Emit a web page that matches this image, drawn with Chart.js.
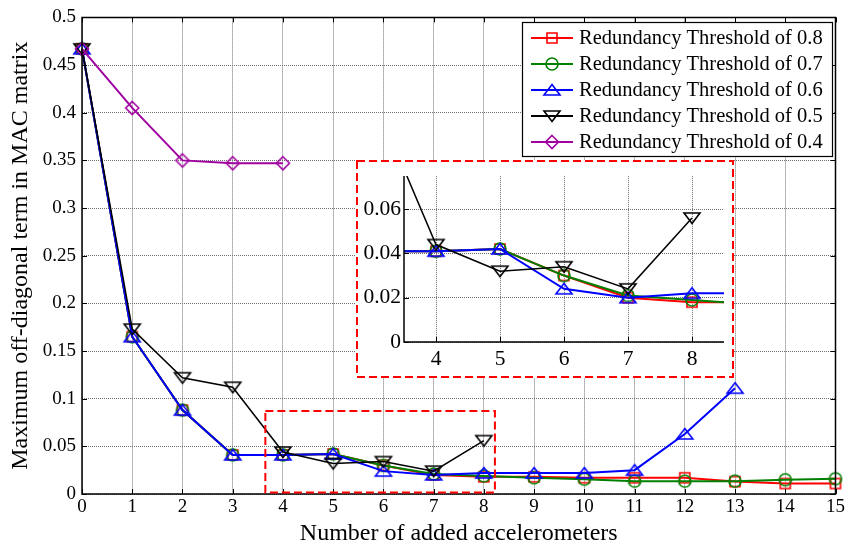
<!DOCTYPE html>
<html>
<head>
<meta charset="utf-8">
<script src="https://cdn.jsdelivr.net/npm/chart.js@4.4.0/dist/chart.umd.min.js"></script>
<style>
  html, body { margin: 0; padding: 0; background: #fff; }
  #wrap { position: relative; width: 847px; height: 551px; }
  #main { position: absolute; left: 0; top: 0; }
  #inset { position: absolute; left: 356px; top: 160px; }
</style>
</head>
<body>
<div id="wrap">
  <canvas id="main" width="847" height="551"></canvas>
  <canvas id="inset" width="378" height="218"></canvas>
</div>
<script>
// number of added accelerometers
const counts = [0, 1, 2, 3, 4, 5, 6, 7, 8, 9, 10, 11, 12, 13, 14, 15];

// max off-diagonal MAC term for each redundancy threshold
const thr08 = [0.467, 0.165, 0.088, 0.041, 0.041, 0.042, 0.030, 0.020, 0.018, 0.018, 0.017, 0.017, 0.017, 0.013, 0.011, 0.011];
const thr07 = [0.467, 0.165, 0.088, 0.041, 0.041, 0.042, 0.030, 0.021, 0.019, 0.017, 0.0155, 0.0135, 0.0135, 0.0135, 0.015, 0.016];
const thr06 = [0.467, 0.165, 0.088, 0.041, 0.041, 0.042, 0.024, 0.020, 0.022, 0.022, 0.022, 0.025, 0.063, 0.111];
const thr05 = [0.467, 0.173, 0.122, 0.112, 0.044, 0.032, 0.034, 0.024, 0.056];
const thr04 = [0.467, 0.405, 0.350, 0.347, 0.347];

const seriesNames = [
  'Redundancy Threshold of 0.8',
  'Redundancy Threshold of 0.7',
  'Redundancy Threshold of 0.6',
  'Redundancy Threshold of 0.5',
  'Redundancy Threshold of 0.4'
];
const seriesColors = ['#ff0000', '#008000', '#0000ff', '#000000', '#a000a0'];
const seriesShapes = ['square', 'circle', 'up', 'down', 'diamond'];
const seriesWidths = [2, 2, 2, 1.5, 2];

// tick values
const mainXTicks = [0, 1, 2, 3, 4, 5, 6, 7, 8, 9, 10, 11, 12, 13, 14, 15];
const mainYTicks = [0, 0.05, 0.1, 0.15, 0.2, 0.25, 0.3, 0.35, 0.4, 0.45, 0.5];
const insetXTicks = [4, 5, 6, 7, 8];
const insetYTicks = [0, 0.02, 0.04, 0.06];

// zoomed region marked on the main plot: [xmin, xmax, ymin, ymax]
const zoomBox = [3.65, 8.22, 0, 0.087];

const FONT = "'Liberation Serif', 'Times New Roman', serif";
const GRID = '#707070';
Chart.defaults.font.family = FONT;
Chart.defaults.color = '#000';

function makeMarker(shape, color) {
  const c = document.createElement('canvas');
  c.width = 22; c.height = 22;
  const g = c.getContext('2d');
  const m = 11;
  g.strokeStyle = color;
  g.lineWidth = 1.6;
  g.beginPath();
  if (shape === 'square') g.rect(m - 5, m - 5, 10, 10);
  else if (shape === 'circle') g.arc(m, m, 6, 0, Math.PI * 2);
  else if (shape === 'up') { g.moveTo(m, m - 5.5); g.lineTo(m + 8, m + 5); g.lineTo(m - 8, m + 5); g.closePath(); }
  else if (shape === 'down') { g.moveTo(m, m + 5.5); g.lineTo(m + 8, m - 5); g.lineTo(m - 8, m - 5); g.closePath(); }
  else { g.moveTo(m, m - 6.5); g.lineTo(m + 6.5, m); g.lineTo(m, m + 6.5); g.lineTo(m - 6.5, m); g.closePath(); }
  g.stroke();
  return c;
}
const markers = seriesShapes.map((s, i) => makeMarker(s, seriesColors[i]));

function toPoints(arr) {
  return arr.map((v, i) => ({ x: counts[i], y: v }));
}

function buildDatasets(clip) {
  return [thr08, thr07, thr06, thr05, thr04].map((arr, i) => ({
    label: seriesNames[i],
    data: toPoints(arr),
    borderColor: seriesColors[i],
    borderWidth: seriesWidths[i],
    pointStyle: markers[i],
    pointRadius: 8,
    tension: 0,
    fill: false,
    clip: clip,
    order: 5 - i
  }));
}

function fmt(v) {
  return String(Number(v.toFixed(3)));
}

// black frame + inward tick marks
const framePlugin = {
  id: 'frame',
  afterDatasetsDraw(chart, args, opts) {
    const { ctx, chartArea: a, scales: { x, y } } = chart;
    ctx.save();
    ctx.strokeStyle = '#000';
    ctx.lineWidth = 1;
    ctx.beginPath();
    x.ticks.forEach(t => {
      const px = Math.round(x.getPixelForValue(t.value)) + 0.5;
      ctx.moveTo(px, a.bottom); ctx.lineTo(px, a.bottom - opts.len);
      if (opts.full) { ctx.moveTo(px, a.top); ctx.lineTo(px, a.top + opts.len); }
    });
    y.ticks.forEach(t => {
      const py = Math.round(y.getPixelForValue(t.value)) + 0.5;
      ctx.moveTo(a.left, py); ctx.lineTo(a.left + opts.len, py);
      if (opts.full) { ctx.moveTo(a.right, py); ctx.lineTo(a.right - opts.len, py); }
    });
    ctx.stroke();
    ctx.lineWidth = opts.lw;
    ctx.beginPath();
    if (opts.full) {
      ctx.rect(a.left, a.top, a.right - a.left, a.bottom - a.top);
    } else {
      ctx.moveTo(a.left, a.top); ctx.lineTo(a.left, a.bottom); ctx.lineTo(a.right, a.bottom);
    }
    ctx.stroke();
    ctx.restore();
  }
};

const zoomBoxPlugin = {
  id: 'zoomBox',
  afterDatasetsDraw(chart) {
    const { ctx, scales: { x, y } } = chart;
    const x0 = x.getPixelForValue(zoomBox[0]), x1 = x.getPixelForValue(zoomBox[1]);
    const y0 = y.getPixelForValue(zoomBox[2]) - 1.5, y1 = y.getPixelForValue(zoomBox[3]);
    ctx.save();
    ctx.strokeStyle = '#ff0000';
    ctx.lineWidth = 2;
    ctx.setLineDash([8, 4]);
    ctx.strokeRect(x0, y1, x1 - x0, y0 - y1);
    ctx.restore();
  }
};

const legendPlugin = {
  id: 'boxLegend',
  afterDraw(chart) {
    const ctx = chart.ctx;
    const L = 522, T = 22, W = 310, H = 134;
    ctx.save();
    ctx.fillStyle = '#fff';
    ctx.fillRect(L, T, W, H);
    ctx.strokeStyle = '#000';
    ctx.lineWidth = 1.2;
    ctx.strokeRect(L + 0.5, T + 0.5, W, H);
    ctx.font = '20.5px ' + FONT;
    ctx.textBaseline = 'middle';
    ctx.textAlign = 'left';
    seriesNames.forEach((name, i) => {
      const yy = T + 16 + i * 26;
      ctx.strokeStyle = seriesColors[i];
      ctx.lineWidth = 2;
      ctx.beginPath();
      ctx.moveTo(L + 9, yy); ctx.lineTo(L + 51, yy);
      ctx.stroke();
      const mk = markers[i];
      ctx.drawImage(mk, L + 30 - mk.width / 2, yy - mk.height / 2);
      ctx.fillStyle = '#000';
      ctx.fillText(name, L + 57, yy + 1);
    });
    ctx.restore();
  }
};

new Chart(document.getElementById('main'), {
  type: 'line',
  data: { datasets: buildDatasets(false) },
  plugins: [framePlugin, zoomBoxPlugin, legendPlugin],
  options: {
    responsive: false,
    animation: false,
    layout: { padding: { top: 12, right: 11, left: 0, bottom: 0 } },
    plugins: {
      legend: { display: false },
      tooltip: { enabled: false },
      frame: { len: 5, lw: 1.5, full: true }
    },
    scales: {
      x: {
        type: 'linear', min: 0, max: 15,
        afterBuildTicks: s => { s.ticks = mainXTicks.map(v => ({ value: v })); },
        afterFit: s => { s.height = 57; },
        ticks: { font: { family: FONT, size: 19 }, color: '#000', padding: 2, maxRotation: 0, callback: v => fmt(v) },
        grid: { color: GRID, lineWidth: 1, drawTicks: false },
        border: { display: false, dash: [1, 1] },
        title: { display: true, text: 'Number of added accelerometers', color: '#000', font: { family: FONT, size: 24 }, padding: { top: 0, bottom: 3 } }
      },
      y: {
        type: 'linear', min: 0, max: 0.5,
        afterBuildTicks: s => { s.ticks = mainYTicks.map(v => ({ value: v })); },
        afterFit: s => { s.width = 82; },
        ticks: { font: { family: FONT, size: 19 }, color: '#000', padding: 6, callback: v => fmt(v) },
        grid: { color: GRID, lineWidth: 1, drawTicks: false },
        border: { display: false, dash: [1, 1] },
        title: { display: true, text: 'Maximum off-diagonal term in MAC matrix', color: '#000', font: { family: FONT, size: 24 }, padding: { top: 6, bottom: 0 } }
      }
    }
  }
});

const insetBgPlugin = {
  id: 'insetBg',
  beforeDraw(chart) {
    const ctx = chart.ctx;
    ctx.save();
    ctx.fillStyle = '#fff';
    ctx.fillRect(0, 0, chart.width, chart.height);
    ctx.restore();
  },
  afterDraw(chart) {
    const ctx = chart.ctx;
    ctx.save();
    ctx.strokeStyle = '#ff0000';
    ctx.lineWidth = 2;
    ctx.setLineDash([8, 4]);
    ctx.strokeRect(1, 1, chart.width - 2, chart.height - 2);
    ctx.restore();
  }
};

new Chart(document.getElementById('inset'), {
  type: 'line',
  data: { datasets: buildDatasets(undefined) },
  plugins: [insetBgPlugin, framePlugin],
  options: {
    responsive: false,
    animation: false,
    layout: { padding: { top: 3, right: 0, left: 0, bottom: 0 } },
    plugins: {
      legend: { display: false },
      tooltip: { enabled: false },
      frame: { len: 5, lw: 1.5, full: false }
    },
    scales: {
      x: {
        type: 'linear', min: 3.5, max: 8.5,
        afterBuildTicks: s => { s.ticks = insetXTicks.map(v => ({ value: v })); },
        afterFit: s => { s.height = 36; },
        ticks: { font: { family: FONT, size: 21.5 }, color: '#000', padding: 4, maxRotation: 0, callback: v => fmt(v) },
        grid: { color: GRID, lineWidth: 1, drawTicks: false },
        border: { display: false, dash: [1, 1] }
      },
      y: {
        type: 'linear', min: 0, max: 0.075,
        afterBuildTicks: s => { s.ticks = insetYTicks.map(v => ({ value: v })); },
        afterFit: s => { s.width = 48; },
        ticks: { font: { family: FONT, size: 21.5 }, color: '#000', padding: 3, callback: v => fmt(v) },
        grid: { color: GRID, lineWidth: 1, drawTicks: false },
        border: { display: false, dash: [1, 1] }
      }
    }
  }
});
</script>
</body>
</html>
